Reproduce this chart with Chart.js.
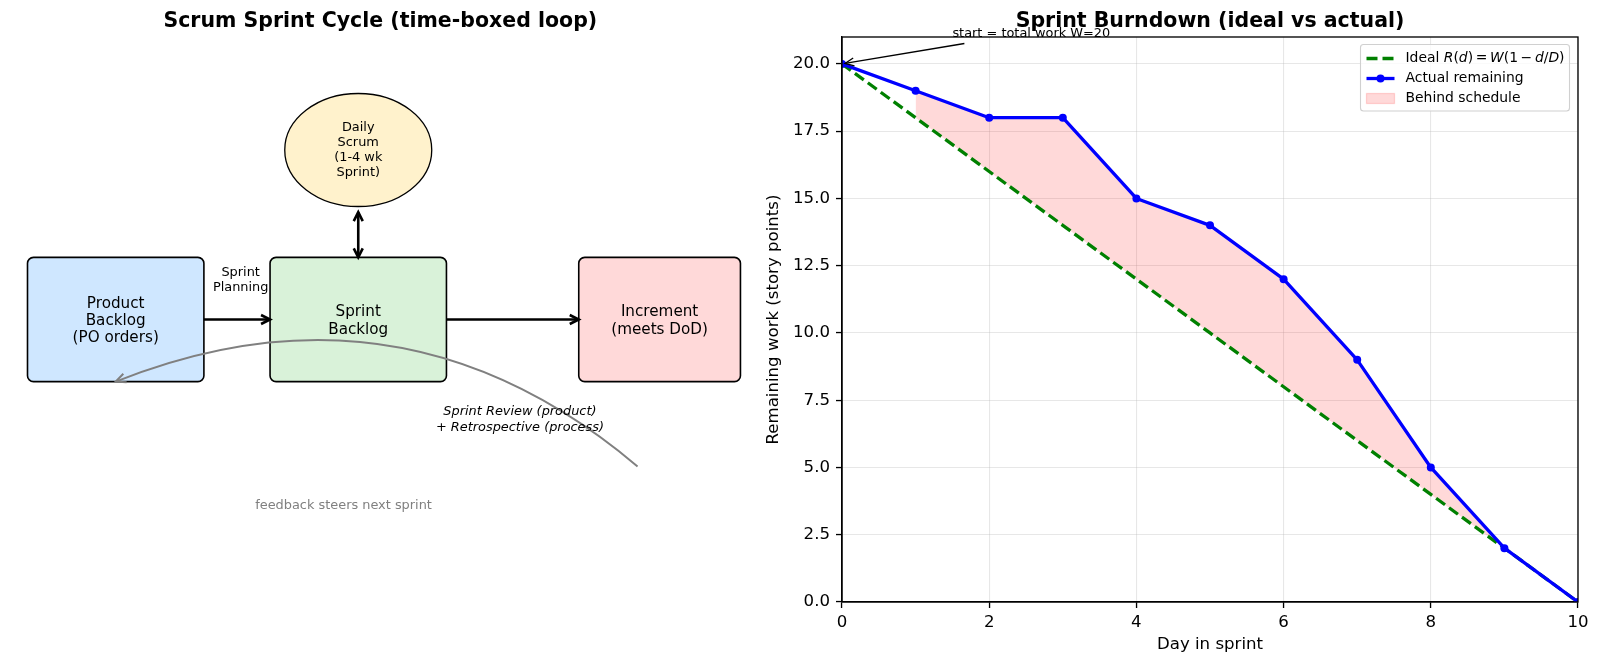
<!DOCTYPE html>
<html>
<head>
<meta charset="utf-8">
<title>Scrum sprint cycle and burndown</title>
<script src="https://cdn.jsdelivr.net/npm/chart.js@4.4.1/dist/chart.umd.min.js"></script>
<style>
  html, body { margin: 0; padding: 0; background: #fff; }
  #wrap { position: relative; width: 1600px; height: 667px; overflow: hidden; }
  #cycle { position: absolute; left: 0; top: 0; }
  #burn { position: absolute; left: 740px; top: 0; }
</style>
</head>
<body>
<div id="wrap">
  <canvas id="cycle" width="800" height="667"></canvas>
  <canvas id="burn" width="860" height="667"></canvas>
</div>
<script>
// burndown data
var days = [0, 1, 2, 3, 4, 5, 6, 7, 8, 9, 10];
var idealRemaining = [20, 18, 16, 14, 12, 10, 8, 6, 4, 2, 0];
var actualRemaining = [20, 19, 18, 18, 15, 14, 12, 9, 5, 2, 0];
var behindDays = [1, 2, 3, 4, 5, 6, 7, 8, 9];
var xTicks = [0, 2, 4, 6, 8, 10];
var yTicks = [0, 2.5, 5, 7.5, 10, 12.5, 15, 17.5, 20];
var seriesLabels = ['Ideal', 'Actual remaining', 'Behind schedule'];
// legend formula, [text, italic?]
var idealFormula = [['Ideal ', 0], ['R', 1], ['(', 0], ['d', 1], [')', 0], [' = ', 0], ['W', 1],
                    ['(1 \u2212 ', 0], ['d', 1], ['/', 0], ['D', 1], [')', 0]];
var startNote = 'start = total work W=20';

// diagram texts
var nodeLabels = [['Product', 'Backlog', '(PO orders)'], ['Sprint', 'Backlog'], ['Increment', '(meets DoD)']];
var scrumLabel = ['Daily', 'Scrum', '(1-4 wk', 'Sprint)'];
var planningLabel = ['Sprint', 'Planning'];
var reviewLabel = ['Sprint Review (product)', '+ Retrospective (process)'];
var feedbackLabel = 'feedback steers next sprint';

var F = '"DejaVu Sans", "Liberation Sans", sans-serif';

// diagram layout in axis units (0..10 both ways)
var nodeBoxes = [
    { x: 0.2, y: 3.9, w: 2.4, h: 2.2, fill: '#cfe7ff' },
    { x: 3.5, y: 3.9, w: 2.4, h: 2.2, fill: '#d9f2d9' },
    { x: 7.7, y: 3.9, w: 2.2, h: 2.2, fill: '#ffd9d9' }
];

// open '->' style arrow head
function arrowHead(ctx, tx, ty, fx, fy, len, half) {
    var a = Math.atan2(ty - fy, tx - fx);
    var c = Math.cos(a), s = Math.sin(a);
    ctx.beginPath();
    ctx.moveTo(tx - len * c + half * s, ty - len * s - half * c);
    ctx.lineTo(tx, ty);
    ctx.lineTo(tx - len * c - half * s, ty - len * s + half * c);
    ctx.stroke();
}

function textLines(ctx, arr, cx, cy, lh) {
    var n = arr.length;
    arr.forEach(function (s, i) {
        ctx.fillText(s, cx, cy + (i - (n - 1) / 2) * lh);
    });
}

function roundBox(ctx, x, y, w, h, r) {
    ctx.beginPath();
    ctx.moveTo(x + r, y);
    ctx.arcTo(x + w, y, x + w, y + h, r);
    ctx.arcTo(x + w, y + h, x, y + h, r);
    ctx.arcTo(x, y + h, x, y, r);
    ctx.arcTo(x, y, x + w, y, r);
    ctx.closePath();
}

// mathtext-ish run: spaces inside the formula are narrower
function drawFormula(ctx, parts, x, y, up, it, size, measureOnly) {
    var cur = x;
    parts.forEach(function (p, i) {
        ctx.font = p[1] ? it : up;
        var chunks = i === 0 ? [p[0]] : p[0].split(' ');
        chunks.forEach(function (c, j) {
            if (j > 0) cur += 0.19 * size;
            if (c) {
                if (!measureOnly) ctx.fillText(c, cur, y);
                cur += ctx.measureText(c).width;
            }
        });
    });
    return cur - x;
}

var cycleDraw = {
    id: 'cycleDraw',
    afterDraw: function (chart) {
        var ctx = chart.ctx, xs = chart.scales.x, ys = chart.scales.y, ca = chart.chartArea;
        var px = function (v) { return xs.getPixelForValue(v); };
        var py = function (v) { return ys.getPixelForValue(v); };
        ctx.save();
        ctx.textAlign = 'center';
        ctx.textBaseline = 'middle';
        ctx.fillStyle = '#000';

        // title
        ctx.font = 'bold 20.5px ' + F;
        ctx.fillText('Scrum Sprint Cycle (time-boxed loop)', (ca.left + ca.right) / 2, 21.5);

        // boxes
        nodeBoxes.forEach(function (b, i) {
            var x0 = px(b.x), x1 = px(b.x + b.w), y0 = py(b.y + b.h), y1 = py(b.y);
            roundBox(ctx, x0, y0, x1 - x0, y1 - y0, 6);
            ctx.fillStyle = b.fill;
            ctx.fill();
            ctx.lineWidth = 1.6;
            ctx.strokeStyle = '#000';
            ctx.stroke();
            ctx.fillStyle = '#000';
            ctx.font = '15.2px ' + F;
            textLines(ctx, nodeLabels[i], px(b.x + b.w / 2), py(b.y + b.h / 2) + 1.5, 17.3);
        });

        // daily scrum ellipse
        var ex = px(4.7), ey = py(8.0);
        ctx.beginPath();
        ctx.ellipse(ex, ey, px(5.7) - ex, py(7.0) - ey, 0, 0, Math.PI * 2);
        ctx.fillStyle = '#fff2cc';
        ctx.fill();
        ctx.lineWidth = 1.3;
        ctx.strokeStyle = '#000';
        ctx.stroke();
        ctx.fillStyle = '#000';
        ctx.font = '12.9px ' + F;
        textLines(ctx, scrumLabel, ex, ey, 15);

        // straight arrows
        ctx.strokeStyle = '#000';
        ctx.lineWidth = 2.6;
        ctx.lineJoin = 'miter';
        [[2.6, 5.0, 3.5, 5.0], [5.9, 5.0, 7.7, 5.0]].forEach(function (a) {
            ctx.beginPath();
            ctx.moveTo(px(a[0]), py(a[1]));
            ctx.lineTo(px(a[2]), py(a[3]));
            ctx.stroke();
            arrowHead(ctx, px(a[2]), py(a[3]), px(a[0]), py(a[1]), 9, 4.5);
        });
        // double arrow to daily scrum
        var dx = px(4.7), dy0 = py(6.1), dy1 = py(6.9);
        ctx.beginPath();
        ctx.moveTo(dx, dy0);
        ctx.lineTo(dx, dy1);
        ctx.stroke();
        arrowHead(ctx, dx, dy0, dx, dy1, 9, 4.5);
        arrowHead(ctx, dx, dy1, dx, dy0, 9, 4.5);

        ctx.font = '12.9px ' + F;
        textLines(ctx, planningLabel, px(3.1), py(5.7), 15.5);

        // feedback curve (arc3-like quadratic)
        var x1 = px(8.5), y1 = py(2.4), x2 = px(1.4), y2 = py(3.9), rad = 0.3;
        var cx = (x1 + x2) / 2 + rad * (y1 - y2);
        var cy = (y1 + y2) / 2 + rad * (x2 - x1);
        ctx.strokeStyle = '#808080';
        ctx.lineWidth = 2;
        ctx.beginPath();
        ctx.moveTo(x1, y1);
        ctx.quadraticCurveTo(cx, cy, x2, y2);
        ctx.stroke();
        arrowHead(ctx, x2, y2, cx, cy, 10, 4.5);

        ctx.fillStyle = '#000';
        ctx.font = 'italic 12.9px ' + F;
        textLines(ctx, reviewLabel, px(6.9), py(3.23), 15.5);

        ctx.fillStyle = '#808080';
        ctx.font = '12.9px ' + F;
        ctx.fillText(feedbackLabel, px(4.5), py(1.7));
        ctx.restore();
    }
};

new Chart(document.getElementById('cycle'), {
    type: 'scatter',
    data: { datasets: [] },
    options: {
        responsive: false,
        animation: false,
        layout: { padding: { left: 12.8, right: 52.2, top: 37, bottom: 65 } },
        plugins: { legend: { display: false }, tooltip: { enabled: false } },
        scales: {
            x: { type: 'linear', min: 0, max: 10, display: false },
            y: { type: 'linear', min: 0, max: 10, display: false }
        }
    },
    plugins: [cycleDraw]
});

// decorations for the burndown: spines, title, note, legend
var burnDecor = {
    id: 'burnDecor',
    afterDraw: function (chart) {
        var ctx = chart.ctx, ca = chart.chartArea, xs = chart.scales.x, ys = chart.scales.y;
        ctx.save();
        ctx.strokeStyle = '#000';
        ctx.lineWidth = 1.33;
        ctx.strokeRect(ca.left, ca.top, ca.right - ca.left, ca.bottom - ca.top);

        ctx.fillStyle = '#000';
        ctx.textAlign = 'center';
        ctx.textBaseline = 'middle';
        ctx.font = 'bold 20.5px ' + F;
        ctx.fillText('Sprint Burndown (ideal vs actual)', (ca.left + ca.right) / 2, 21.5);

        // annotation at day 0
        var fs = 12.9;
        ctx.font = fs + 'px ' + F;
        ctx.textAlign = 'left';
        ctx.textBaseline = 'alphabetic';
        var tx = xs.getPixelForValue(1.5), tyb = ys.getPixelForValue(21);
        ctx.fillText(startNote, tx, tyb);
        var gx = xs.getPixelForValue(days[0]), gy = ys.getPixelForValue(actualRemaining[0]);
        var sx = tx + 12, sy = tyb + 6.5;
        var ddx = gx - sx, ddy = gy - sy, len = Math.hypot(ddx, ddy);
        var ex = gx - ddx / len * 3, ey = gy - ddy / len * 3;
        ctx.lineWidth = 1.3;
        ctx.beginPath();
        ctx.moveTo(sx, sy);
        ctx.lineTo(ex, ey);
        ctx.stroke();
        arrowHead(ctx, ex, ey, sx, sy, 9, 4);

        // legend
        var lf = 13.9;
        var up = lf + 'px ' + F, it = 'italic ' + lf + 'px ' + F;
        var w0 = drawFormula(ctx, idealFormula, 0, 0, up, it, lf, true);
        ctx.font = up;
        var maxW = Math.max(w0, ctx.measureText(seriesLabels[1]).width, ctx.measureText(seriesLabels[2]).width);
        var bw = 45 + maxW + 5, bh = 66.5;
        var bx = ca.right - 8.5 - bw, by = ca.top + 7.5;
        roundBox(ctx, bx, by, bw, bh, 3);
        ctx.fillStyle = 'rgba(255,255,255,0.8)';
        ctx.fill();
        ctx.strokeStyle = '#d0d0d0';
        ctx.lineWidth = 1.1;
        ctx.stroke();

        var hx0 = bx + 6, hx1 = bx + 34, txt = bx + 45;
        var rows = [by + 14, by + 34, by + 54];
        ctx.lineWidth = 3.3;
        ctx.strokeStyle = '#008000';
        ctx.setLineDash([11, 5]);
        ctx.beginPath();
        ctx.moveTo(hx0, rows[0]);
        ctx.lineTo(hx1, rows[0]);
        ctx.stroke();
        ctx.setLineDash([]);
        ctx.strokeStyle = '#0000ff';
        ctx.beginPath();
        ctx.moveTo(hx0, rows[1]);
        ctx.lineTo(hx1, rows[1]);
        ctx.stroke();
        ctx.fillStyle = '#0000ff';
        ctx.beginPath();
        ctx.arc((hx0 + hx1) / 2, rows[1], 4, 0, Math.PI * 2);
        ctx.fill();
        ctx.fillStyle = 'rgba(255,0,0,0.15)';
        ctx.strokeStyle = 'rgba(255,0,0,0.15)';
        ctx.lineWidth = 1.3;
        ctx.fillRect(hx0, rows[2] - 5, hx1 - hx0, 10);
        ctx.strokeRect(hx0, rows[2] - 5, hx1 - hx0, 10);

        ctx.fillStyle = '#000';
        ctx.textBaseline = 'middle';
        drawFormula(ctx, idealFormula, txt, rows[0], up, it, lf, false);
        ctx.font = up;
        ctx.fillText(seriesLabels[1], txt, rows[1]);
        ctx.fillText(seriesLabels[2], txt, rows[2]);
        ctx.restore();
    }
};

var gridOpts = { color: 'rgba(176,176,176,0.3)', lineWidth: 1.1, tickColor: '#000', tickLength: 6, tickWidth: 1.33 };

new Chart(document.getElementById('burn'), {
    type: 'line',
    data: {
        datasets: [{
            label: seriesLabels[0],
            data: days.map(function (d, i) { return { x: d, y: idealRemaining[i] }; }),
            borderColor: '#008000',
            borderWidth: 3.3,
            borderDash: [11, 5],
            pointRadius: 0,
            fill: false,
            order: 2
        }, {
            label: seriesLabels[1],
            data: days.map(function (d, i) { return { x: d, y: actualRemaining[i] }; }),
            borderColor: '#0000ff',
            borderWidth: 3.3,
            borderJoinStyle: 'round',
            pointRadius: 4,
            pointBorderWidth: 0,
            pointBackgroundColor: '#0000ff',
            pointBorderColor: '#0000ff',
            fill: false,
            order: 1
        }, {
            label: seriesLabels[2],
            data: behindDays.map(function (d) { return { x: d, y: actualRemaining[days.indexOf(d)] }; }),
            borderColor: 'rgba(0,0,0,0)',
            borderWidth: 0,
            pointRadius: 0,
            backgroundColor: 'rgba(255,0,0,0.15)',
            fill: { target: 0 },
            order: 3
        }]
    },
    options: {
        responsive: false,
        animation: false,
        layout: { padding: { top: 37, right: 22, left: 0, bottom: 0 } },
        plugins: { legend: { display: false }, tooltip: { enabled: false } },
        scales: {
            x: {
                type: 'linear', min: 0, max: 10,
                afterBuildTicks: function (s) { s.ticks = xTicks.map(function (v) { return { value: v }; }); },
                afterFit: function (s) { s.height = 65; },
                grid: gridOpts,
                border: { color: '#000', width: 1.33 },
                ticks: { color: '#000', font: { family: F, size: 16.6 }, padding: 5, maxRotation: 0, autoSkip: false },
                title: { display: true, text: 'Day in sprint', color: '#000', font: { family: F, size: 16.6 }, padding: { top: 0, bottom: 12 } }
            },
            y: {
                type: 'linear', min: 0, max: 21,
                afterBuildTicks: function (s) { s.ticks = yTicks.map(function (v) { return { value: v }; }); },
                afterFit: function (s) { s.width = 102; },
                grid: gridOpts,
                border: { color: '#000', width: 1.33 },
                ticks: {
                    color: '#000', font: { family: F, size: 16.6 }, padding: 6, autoSkip: false,
                    callback: function (v) { return Number(v).toFixed(1); }
                },
                title: { display: true, text: 'Remaining work (story points)', color: '#000', font: { family: F, size: 16.6 }, padding: { top: 24, bottom: 0 } }
            }
        }
    },
    plugins: [burnDecor]
});
</script>
</body>
</html>
